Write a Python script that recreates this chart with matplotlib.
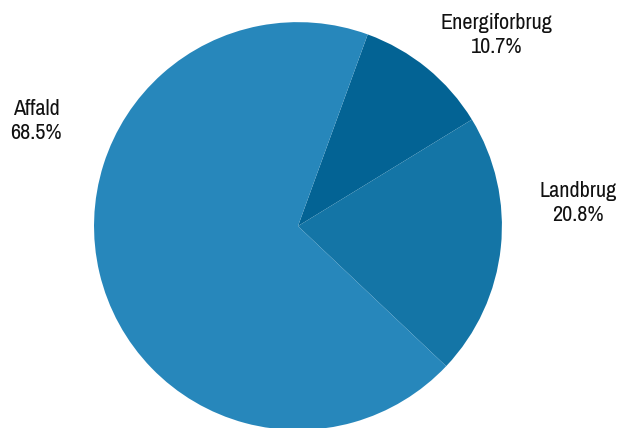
import matplotlib.pyplot as plt
from matplotlib import font_manager

labels = ["Energiforbrug", "Landbrug", "Affald"]
shares = [10.7, 20.8, 68.5]
colors = ["#036394", "#1475a6", "#2787bb"]

# look for an upright, regular narrow sans face (reference uses a condensed font)
def is_regular(f):
    return f.style == "normal" and f.weight in (400, "normal", "regular") and "Mono" not in f.name

ttf = font_manager.fontManager.ttflist
narrow = None
for f in ttf:
    if ("Narrow" in f.name or "Condensed" in f.name) and is_regular(f):
        narrow = f
        break
if narrow is None:
    for f in ttf:
        if str(f.stretch) in ("condensed", "semi-condensed") and is_regular(f):
            narrow = f
            break

if narrow is not None:
    text_font = font_manager.FontProperties(fname=narrow.fname, size=16)
else:
    text_font = font_manager.FontProperties(family="Liberation Sans", size=12)

fig = plt.figure(figsize=(6.2, 4.28), dpi=100)
ax = fig.add_axes([0.1516, -0.0047, 0.658, 0.953])

ax.pie(shares, colors=colors, startangle=70, counterclock=False,
       wedgeprops=dict(linewidth=0))

# label spots around the pie (data coords, radius = 1)
label_pos = [(0.975, 0.936), (1.373, 0.113), (-1.284, 0.515)]
for name, v, (x, y) in zip(labels, shares, label_pos):
    ax.text(x, y, f"{name}\n{v:.1f}%", ha="center", va="center",
            fontproperties=text_font, linespacing=1.28, color="#111111",
            clip_on=False)

ax.set_xlim(-1, 1)
ax.set_ylim(-1, 1)
ax.set_aspect("equal")
ax.axis("off")

fig.savefig("out.png", dpi=100)
